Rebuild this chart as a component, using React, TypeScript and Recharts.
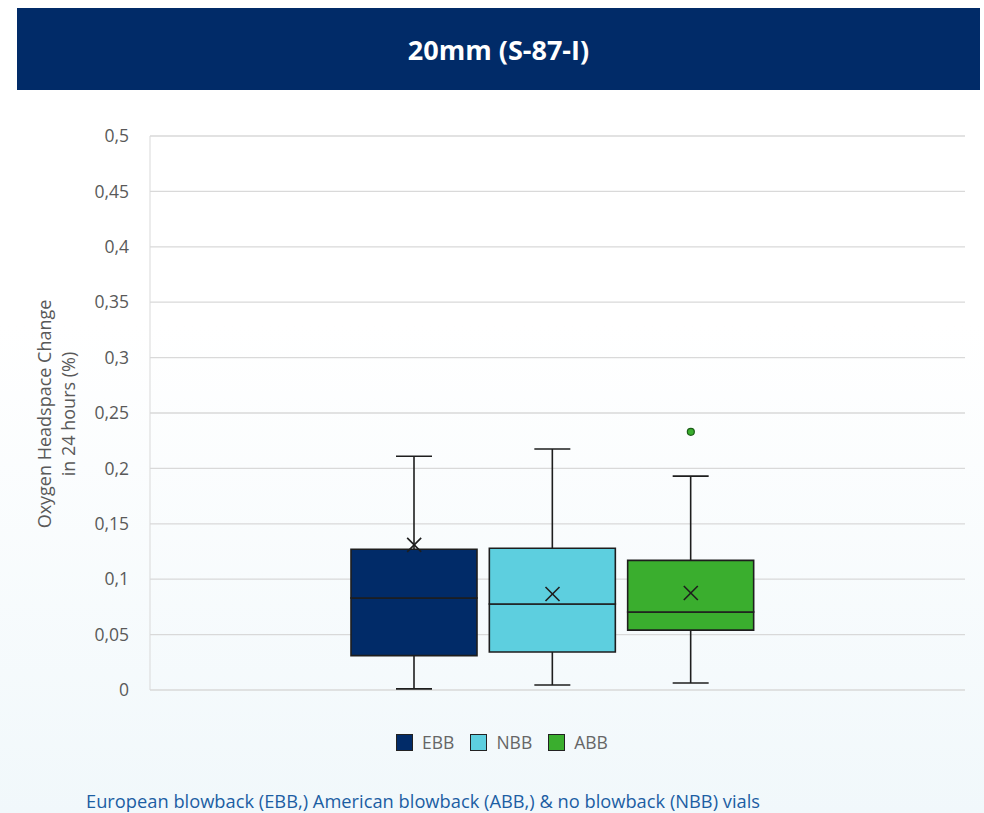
import React from "react";
import { ComposedChart, Bar, Scatter, XAxis, YAxis, CartesianGrid, Legend, Cell } from "recharts";

const groups = ["EBB", "NBB", "ABB"];
const mins = [0.001, 0.0045, 0.0063];
const q1s = [0.031, 0.0343, 0.054];
const medians = [0.083, 0.0776, 0.0704];
const q3s = [0.127, 0.128, 0.117];
const maxs = [0.211, 0.2175, 0.193];
const means = [0.131, 0.0866, 0.0875];
const outliers: (number | null)[] = [null, null, 0.233];
const colors = ["#012b68", "#5dcfdf", "#3aae2e"];
const yTicks = [0, 0.05, 0.1, 0.15, 0.2, 0.25, 0.3, 0.35, 0.4, 0.45, 0.5];

const data = groups.map((g, i) => ({
  name: g,
  base: mins[i],
  lowWhisker: q1s[i] - mins[i],
  lowBox: medians[i] - q1s[i],
  highBox: q3s[i] - medians[i],
  highWhisker: maxs[i] - q3s[i],
  mean: means[i],
  outlier: outliers[i],
}));

const INK = "#1e1e1e";
const FONT = "'Open Sans', Lato, sans-serif";

const Whisker = (props: any, top: boolean) => {
  const { x, y, width, height } = props;
  const cx = x + width / 2;
  const capY = top ? y : y + height;
  return (
    <g>
      <line x1={cx} x2={cx} y1={y} y2={y + height} stroke={INK} strokeWidth={1.6} />
      <line x1={cx - 18} x2={cx + 18} y1={capY} y2={capY} stroke={INK} strokeWidth={1.6} />
    </g>
  );
};

const MeanMark = (props: any) => {
  const { cx, cy } = props;
  const s = 7;
  return (
    <g>
      <line x1={cx - s} x2={cx + s} y1={cy - s} y2={cy + s} stroke={INK} strokeWidth={1.6} />
      <line x1={cx - s} x2={cx + s} y1={cy + s} y2={cy - s} stroke={INK} strokeWidth={1.6} />
    </g>
  );
};

const OutlierMark = (props: any) => {
  const { cx, cy } = props;
  if (cy == null || isNaN(cy)) return <g />;
  return <circle cx={cx} cy={cy} r={3.5} fill="#3aae2e" stroke="#1d5f18" strokeWidth={1.2} />;
};

const YLabel = (props: any) => {
  const { viewBox } = props;
  const cy = viewBox.y + viewBox.height / 2 + 1;
  return (
    <g fill="#595959" fontSize={18} fontFamily={FONT}>
      <text x={51} y={cy} transform={`rotate(-90 51 ${cy})`} textAnchor="middle">
        Oxygen Headspace Change
      </text>
      <text x={75} y={cy} transform={`rotate(-90 75 ${cy})`} textAnchor="middle">
        in 24 hours (%)
      </text>
    </g>
  );
};

const LegendContent = () => (
  <div style={{ height: 30, display: "flex", justifyContent: "center", alignItems: "center", gap: 16, fontFamily: FONT, fontSize: 17.5, color: "#666" }}>
    {groups.map((g, i) => (
      <div key={g} style={{ display: "flex", alignItems: "center", gap: 9 }}>
        <span style={{ width: 17, height: 17, background: colors[i], border: "1.5px solid #222", boxSizing: "border-box", display: "inline-block" }} />
        <span>{g}</span>
      </div>
    ))}
  </div>
);

export default function App() {
  return (
    <div style={{ position: "absolute", left: 0, top: 0, width: 984, height: 813, overflow: "hidden", background: "linear-gradient(to bottom, #ffffff 0%, #ffffff 40%, #f1f8fb 100%)" }}>
      <div style={{ position: "absolute", left: 17, top: 8, width: 963, height: 82, background: "#012b68", color: "#fff", display: "flex", alignItems: "center", justifyContent: "center", fontFamily: FONT, fontWeight: 700, fontSize: 27 }}>
        20mm (S-87-I)
      </div>
      <div style={{ position: "absolute", left: 0, top: 0 }}>
        <ComposedChart width={984} height={813} data={data} margin={{ top: 136, right: 19, left: 90, bottom: 93 }} barCategoryGap={6}>
          <CartesianGrid vertical={false} stroke="#d9d9d9" strokeWidth={1.3} />
          <XAxis dataKey="name" hide padding={{ left: 195, right: 205 }} />
          <YAxis
            width={60}
            domain={[0, 0.5]}
            ticks={yTicks}
            tickFormatter={(v: number) => String(v).replace(".", ",")}
            tick={{ fill: "#595959", fontSize: 17.5, fontFamily: FONT }}
            tickLine={false}
            tickMargin={15}
            axisLine={{ stroke: "#d9d9d9" }}
            label={<YLabel />}
          />
          <Legend content={<LegendContent />} verticalAlign="bottom" wrapperStyle={{ bottom: 56, left: 20, width: 964 }} />
          <Bar dataKey="base" stackId="b" fill="transparent" isAnimationActive={false} legendType="none" />
          <Bar dataKey="lowWhisker" stackId="b" isAnimationActive={false} shape={(p: any) => Whisker(p, false)} />
          <Bar dataKey="lowBox" stackId="b" stroke={INK} strokeWidth={1.6} isAnimationActive={false}>
            {data.map((d, i) => <Cell key={d.name} fill={colors[i]} />)}
          </Bar>
          <Bar dataKey="highBox" stackId="b" stroke={INK} strokeWidth={1.6} isAnimationActive={false}>
            {data.map((d, i) => <Cell key={d.name} fill={colors[i]} />)}
          </Bar>
          <Bar dataKey="highWhisker" stackId="b" isAnimationActive={false} shape={(p: any) => Whisker(p, true)} />
          <Scatter dataKey="mean" isAnimationActive={false} shape={<MeanMark />} />
          <Scatter dataKey="outlier" isAnimationActive={false} shape={<OutlierMark />} />
        </ComposedChart>
      </div>
      <div style={{ position: "absolute", left: 86, top: 788, fontFamily: FONT, fontSize: 18.3, color: "#1c5ea3" }}>
        European blowback (EBB,) American blowback (ABB,) &amp; no blowback (NBB) vials
      </div>
    </div>
  );
}
